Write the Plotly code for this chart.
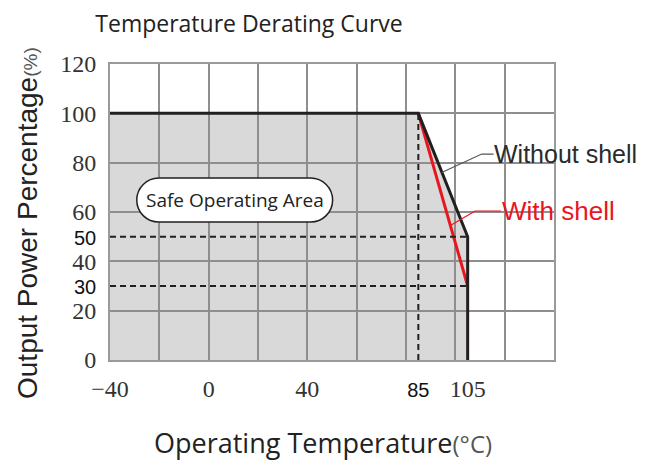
import plotly.graph_objects as go

# ---- data ----
temp_without = [-40, 85, 105, 105]
power_without = [100, 100, 50, 0]
temp_with = [85, 105]
power_with = [100, 30]
derate_start = 85
max_temp = 105
dash_levels = [50, 30]

x_tickvals = [-40, 0, 40, 85, 105]
x_ticklabels = ["\u221240", "0", "40", "85", "105"]
y_tickvals = [0, 20, 30, 40, 50, 60, 80, 100, 120]
y_ticklabels = ["0", "20", "30", "40", "50", "60", "80", "100", "120"]
sans_ticks = {85, 30, 50}

X_RANGE = [-40, 140]
Y_RANGE = [0, 120]

GRID = "#8e8e8e"
BLACK = "#231f20"
RED = "#e8161e"
FILL = "#d9d9d9"

# page body has an 8px margin; figure is sized/offset to compensate
W, H = 639, 456
OFF = 8
PL, PT, PW, PH = 110 - OFF, 64 - OFF, 444, 296


def px_to_paper(px, py):
    return (px - OFF - PL) / PW, (PT + PH - (py - OFF)) / PH


def fmt(v, t):
    if v in sans_ticks:
        return ("<span style='font-family:Liberation Sans, Arial;font-size:20px;"
                "fill:#111'>" + t + "</span>")
    return t


fig = go.Figure()

# gray safe area (below gridlines)
path = "M %g,0 " % temp_without[0]
for x, y in zip(temp_without, power_without):
    path += "L %g,%g " % (x, y)
path += "Z"
fig.add_shape(type="path", path=path, xref="x", yref="y",
              fillcolor=FILL, line=dict(width=0), layer="below")

# dashed guide lines
for lvl in dash_levels:
    fig.add_trace(go.Scatter(x=[X_RANGE[0], max_temp], y=[lvl, lvl], mode="lines",
                             line=dict(color=BLACK, width=2, dash="6px,4px"),
                             xaxis="x2", yaxis="y2", hoverinfo="skip", showlegend=False))
fig.add_trace(go.Scatter(x=[derate_start, derate_start], y=[0, 100], mode="lines",
                         line=dict(color=BLACK, width=2, dash="6px,4px"),
                         xaxis="x2", yaxis="y2", hoverinfo="skip", showlegend=False))

# curves
fig.add_trace(go.Scatter(x=temp_with, y=power_with, mode="lines",
                         line=dict(color=RED, width=3), showlegend=False, cliponaxis=False))
fig.add_trace(go.Scatter(x=temp_without, y=power_without, mode="lines",
                         line=dict(color=BLACK, width=3), showlegend=False, cliponaxis=False))

# pointer lines for labels
fig.add_trace(go.Scatter(x=[94.5, 110.7, 115.5], y=[76, 83.5, 83.5], mode="lines",
                         line=dict(color="#555", width=1.2), hoverinfo="skip", showlegend=False))
fig.add_trace(go.Scatter(x=[98, 108, 118.5], y=[54.5, 60.4, 60.4], mode="lines",
                         line=dict(color=RED, width=1.2), hoverinfo="skip", showlegend=False))

fig.add_annotation(x=114.8, y=83.5, xref="x", yref="y", text="Without shell",
                   showarrow=False, xanchor="left", yanchor="middle",
                   font=dict(family="Liberation Sans, Arial", size=25, color="#2b2b2b"))
fig.add_annotation(x=118.2, y=60.4, xref="x", yref="y", text="With shell",
                   showarrow=False, xanchor="left", yanchor="middle",
                   font=dict(family="Liberation Sans, Arial", size=26, color=RED))

# Safe Operating Area pill
x1, x2, yc, r = -20.2, 41.3, 64.85, 8.95
k = 0.5523 * r
yt, yb = yc + r, yc - r
pill = (f"M {x1},{yt} L {x2},{yt} "
        f"C {x2+k},{yt} {x2+r},{yc+k} {x2+r},{yc} "
        f"C {x2+r},{yc-k} {x2+k},{yb} {x2},{yb} "
        f"L {x1},{yb} "
        f"C {x1-k},{yb} {x1-r},{yc-k} {x1-r},{yc} "
        f"C {x1-r},{yc+k} {x1-k},{yt} {x1},{yt} Z")
fig.add_shape(type="path", path=pill, xref="x", yref="y", fillcolor="white",
              line=dict(color=BLACK, width=1.5), layer="above")
fig.add_annotation(x=(x1 + x2) / 2, y=yc, xref="x", yref="y", text="Safe Operating Area",
                   showarrow=False, font=dict(family="Open Sans", size=19, color="#222"))

# axis titles
xt = px_to_paper(323, 442)
fig.add_annotation(x=xt[0], y=xt[1], xref="paper", yref="paper",
                   text="Operating Temperature<span style='font-size:24px;fill:#555'>(\u00b0C)</span>",
                   showarrow=False, xanchor="center", yanchor="middle",
                   font=dict(family="Open Sans", size=27, color="#222"))
yt_ = px_to_paper(27, 223)
fig.add_annotation(x=yt_[0], y=yt_[1], xref="paper", yref="paper",
                   text="Output Power Percentage<span style='font-size:19px;fill:#555'>(%)</span>",
                   textangle=-90, showarrow=False, xanchor="center", yanchor="middle",
                   font=dict(family="Liberation Sans, Arial", size=28, color="#222"))

axis_common = dict(showgrid=True, gridcolor=GRID, gridwidth=1.5, zeroline=False,
                   showline=True, linecolor="#9a9a9a", linewidth=2, mirror=True,
                   showticklabels=False, ticks="", fixedrange=True)

fig.update_layout(
    width=W, height=H,
    margin=dict(l=PL, r=W - PL - PW, t=PT, b=H - PT - PH),
    paper_bgcolor="white", plot_bgcolor="white",
    title=dict(text="Temperature Derating Curve", x=(249 - OFF) / W, y=1 - (24 - OFF) / H,
               xanchor="center", yanchor="middle",
               font=dict(family="Open Sans", size=23, color="#222")),
    xaxis=dict(range=X_RANGE, tick0=-40, dtick=20, **axis_common),
    yaxis=dict(range=Y_RANGE, tick0=0, dtick=20, **axis_common),
    xaxis2=dict(range=X_RANGE, overlaying="x", side="bottom", showgrid=False,
                zeroline=False, showline=False, tickmode="array",
                tickvals=x_tickvals,
                ticktext=[fmt(v, t) for v, t in zip(x_tickvals, x_ticklabels)],
                ticks="outside", ticklen=7, tickcolor="rgba(0,0,0,0)",
                tickfont=dict(family="Liberation Serif", size=24, color="#333"),
                fixedrange=True),
    yaxis2=dict(range=Y_RANGE, overlaying="y", side="left", showgrid=False,
                zeroline=False, showline=False, tickmode="array",
                tickvals=y_tickvals,
                ticktext=[fmt(v, t) for v, t in zip(y_tickvals, y_ticklabels)],
                ticks="outside", ticklen=8, tickcolor="rgba(0,0,0,0)",
                tickfont=dict(family="Liberation Serif", size=24, color="#333"),
                fixedrange=True),
)

fig.write_html("out.html")
